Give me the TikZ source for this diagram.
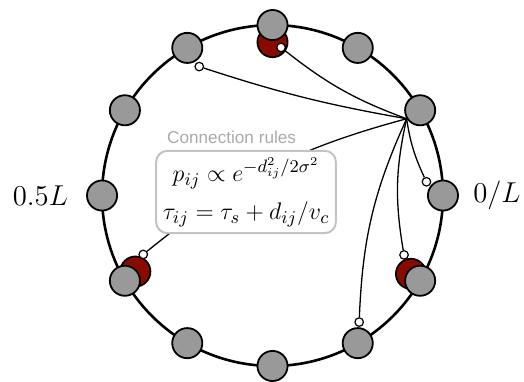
\documentclass[tikz,border=0pt]{standalone}
\usepackage{fontspec}
\newfontfamily\rulesfont{Liberation Sans}
\definecolor{cellgray}{RGB}{153,153,153}
\definecolor{shiftred}{RGB}{139,10,0}
\definecolor{boxgray}{RGB}{195,195,195}
\definecolor{titlegray}{RGB}{170,170,170}

\begin{document}
\begin{tikzpicture}
	\tikzstyle{cell} = [circle, draw, line width=0.9pt, fill=cellgray, minimum size=0.53cm, inner sep=0pt]
	\tikzstyle{shifted} = [cell, fill=shiftred]
	\tikzstyle{port} = [circle, draw, line width=0.6pt, fill=white, minimum size=0.15cm, inner sep=0pt]
	\tikzstyle{wire} = [line width=0.65pt]
	\tikzstyle{rulebox} = [draw=boxgray, line width=1pt, fill=white, rounded corners=0.2cm, minimum width=3.13cm, minimum height=1.41cm, align=center, font=\fontsize{12.5}{15}\selectfont]
	
	\useasboundingbox (-4.796,-3.265) rectangle (4.426,3.441);
	
	% Ring
	\draw[line width=1.3pt] (0,0) circle (3cm);
	
	% Shifted copies, behind the cells
	\node[shifted] (D3) at (90:2.70) {};
	\node[shifted] (D11) at (-29.5:2.80) {};
	\node[shifted] (D7) at (209:2.76) {};
	
	% Cells on the ring
	\node[cell] (N0) at (0:3) {};
	\node[cell] (N1) at (30:3) {};
	\node[cell] (N2) at (60:3) {};
	\node[cell] (N3) at (90:3) {};
	\node[cell] (N4) at (120:3) {};
	\node[cell] (N5) at (150:3) {};
	\node[cell] (N6) at (180:3) {};
	\node[cell] (N7) at (210:3) {};
	\node[cell] (N8) at (240:3) {};
	\node[cell] (N9) at (270:3) {};
	\node[cell] (N10) at (300:3) {};
	\node[cell] (N11) at (330:3) {};
	
	% Synapse ends
	\node[port] (P1) at (119.6:2.61) {};
	\node[port] (P2) at (86.7:2.61) {};
	\node[port] (P3) at (5.1:2.72) {};
	\node[port] (P4) at (-24.3:2.54) {};
	\node[port] (P5) at (-55.6:2.70) {};
	\node[port] (P6) at (204.5:2.50) {};
	
	% Curved connections out of N1
	\coordinate (S) at (N1.212);
	\draw[wire] (S) to[bend left=4] (P1);
	\draw[wire] (S) to[bend left=9] (P2);
	\draw[wire] (S) to[bend right=8] (P3);
	\draw[wire] (S) to[bend right=11] (P4);
	\draw[wire] (S) to[bend right=11] (P5);
	\draw[wire] (S) to[bend right=12] (P6);
	
	% Rules box
	\node[rulebox] (rules) at (-0.466,0.062) {$p_{ij} \propto e^{-d_{ij}^2/2\sigma^2}$\\[4pt] $\tau_{ij} = \tau_s + d_{ij}/v_c$};
	\node[text=titlegray, font=\rulesfont\fontsize{8.6}{10}\selectfont] (title) at (-0.72,1.03) {Connection rules};
	
	% Position labels
	\node (half) at (-4.085,0) {\Large $0.5L$};
	\node (zero) at (3.95,0) {\Large $0/L$};
	
\end{tikzpicture}
\end{document}
